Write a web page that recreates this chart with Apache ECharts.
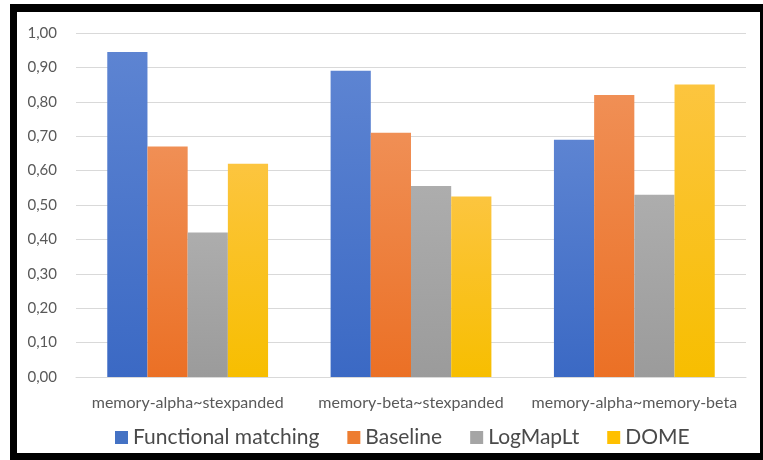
<!DOCTYPE html>
<html>
<head>
<meta charset="utf-8">
<script src="https://cdn.jsdelivr.net/npm/echarts@6/dist/echarts.min.js"></script>
<style>
  html, body { margin: 0; padding: 0; background: #ffffff; }
  #chart { width: 763px; height: 460px; }
</style>
</head>
<body>
<div id="chart"></div>
<script>
// Matching scores per dataset pair
const categories = ['memory-alpha~stexpanded', 'memory-beta~stexpanded', 'memory-alpha~memory-beta'];
const functionalMatching = [0.945, 0.89, 0.69];
const baseline = [0.67, 0.71, 0.82];
const logMapLt = [0.42, 0.555, 0.53];
const dome = [0.62, 0.525, 0.85];
const yTickLabels = ['0,00', '0,10', '0,20', '0,30', '0,40', '0,50', '0,60', '0,70', '0,80', '0,90', '1,00'];

const FONT = 'Lato, "Open Sans", sans-serif';

function grad(top, bottom) {
  return new echarts.graphic.LinearGradient(0, 0, 0, 1, [
    { offset: 0, color: top },
    { offset: 1, color: bottom }
  ]);
}

const seriesDefs = [
  { name: 'Functional matching', data: functionalMatching, top: '#5d84d2', bottom: '#3b69c4', icon: '#4472c4' },
  { name: 'Baseline', data: baseline, top: '#f08f55', bottom: '#eb7025', icon: '#ed7d31' },
  { name: 'LogMapLt', data: logMapLt, top: '#adadad', bottom: '#9b9b9b', icon: '#a5a5a5' },
  { name: 'DOME', data: dome, top: '#fcc53f', bottom: '#f7be00', icon: '#ffc000' }
];

const chart = echarts.init(document.getElementById('chart'), null, { renderer: 'canvas' });

chart.setOption({
  backgroundColor: '#ffffff',
  animation: false,
  grid: { left: 76, right: 17, top: 33, bottom: 83, containLabel: false },
  legend: {
    top: 422,
    left: 110,
    itemWidth: 13,
    itemHeight: 13,
    itemGap: 28,
    icon: 'rect',
    textStyle: { fontFamily: FONT, fontSize: 21, color: '#4a4a4a' },
    data: seriesDefs.map(s => ({ name: s.name, itemStyle: { color: s.icon } }))
  },
  xAxis: {
    type: 'category',
    data: categories,
    axisLine: { show: true, lineStyle: { color: '#d9d9d9', width: 1 } },
    axisTick: { show: false },
    axisLabel: { fontFamily: FONT, fontSize: 16, color: '#595959', margin: 18, interval: 0, hideOverlap: false }
  },
  yAxis: {
    type: 'value',
    min: 0,
    max: 1,
    interval: 0.1,
    axisLine: { show: false },
    axisTick: { show: false },
    splitLine: { lineStyle: { color: '#d9d9d9', width: 1 } },
    axisLabel: {
      fontFamily: FONT, fontSize: 15, color: '#595959', margin: 19,
      formatter: v => yTickLabels[Math.round(v * 10)]
    }
  },
  series: seriesDefs.map(s => ({
    name: s.name,
    type: 'bar',
    data: s.data,
    barGap: '0%',
    barCategoryGap: '28%',
    itemStyle: { color: grad(s.top, s.bottom) }
  })),
  graphic: [
    // black picture frame
    { type: 'rect', shape: { x: 10, y: 4, width: 753, height: 8 }, style: { fill: '#000' }, z: 100 },
    { type: 'rect', shape: { x: 10, y: 4, width: 7, height: 456 }, style: { fill: '#000' }, z: 100 },
    { type: 'rect', shape: { x: 10, y: 453, width: 753, height: 7 }, style: { fill: '#000' }, z: 100 },
    { type: 'rect', shape: { x: 760, y: 4, width: 3, height: 456 }, style: { fill: '#000' }, z: 100 }
  ]
});
</script>
</body>
</html>
